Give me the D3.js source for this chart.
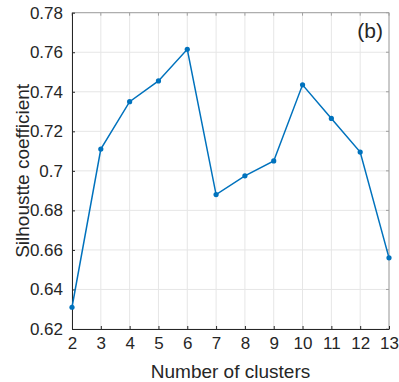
<!DOCTYPE html>
<html><head><meta charset="utf-8">
<script src="https://cdn.jsdelivr.net/npm/d3@7"></script>
<style>body{margin:0;background:#fff}svg{display:block}text{font-family:"Liberation Sans",Arial,sans-serif;fill:#262626}</style>
</head><body><svg id="c" width="399" height="382"></svg>
<script>
const clusters = [2,3,4,5,6,7,8,9,10,11,12,13];
const silhouette = [0.631,0.711,0.735,0.7455,0.7615,0.688,0.6975,0.705,0.7435,0.7265,0.7095,0.656];
const yTicks = [0.62,0.64,0.66,0.68,0.7,0.72,0.74,0.76,0.78];
const xTicks = clusters;

const svg = d3.select("#c");
const L=72, R=389, T=12.7, B=329;
const x = d3.scaleLinear().domain([2,13]).range([L,R]);
const y = d3.scaleLinear().domain([0.62,0.78]).range([B,T]);

// grid
const g = svg.append("g");
g.selectAll("line.gx").data(xTicks).join("line")
  .attr("x1",d=>x(d)).attr("x2",d=>x(d)).attr("y1",T).attr("y2",B)
  .attr("stroke","#e6e6e6").attr("stroke-width",1);
g.selectAll("line.gy").data(yTicks).join("line")
  .attr("y1",d=>y(d)).attr("y2",d=>y(d)).attr("x1",L).attr("x2",R)
  .attr("stroke","#e6e6e6").attr("stroke-width",1);

// box top/right
svg.append("line").attr("x1",L).attr("x2",R).attr("y1",T).attr("y2",T).attr("stroke","#a0a0a0");
svg.append("line").attr("x1",R).attr("x2",R).attr("y1",T).attr("y2",B).attr("stroke","#a0a0a0");
// inner ticks on top/right
svg.selectAll("line.tr").data(yTicks).join("line").attr("x1",R-3).attr("x2",R).attr("y1",d=>y(d)).attr("y2",d=>y(d)).attr("stroke","#a0a0a0");
svg.selectAll("line.tt").data(xTicks).join("line").attr("y1",T).attr("y2",T+3).attr("x1",d=>x(d)).attr("x2",d=>x(d)).attr("stroke","#a0a0a0");

// axes
const xAxis = d3.axisBottom(x).tickValues(xTicks).tickSizeInner(-3).tickSizeOuter(0).tickPadding(8).tickFormat(d3.format("d"));
const yAxis = d3.axisLeft(y).tickValues(yTicks).tickSizeInner(-3).tickSizeOuter(0).tickPadding(9).tickFormat(d=>String(+d.toFixed(2)));
const gx = svg.append("g").attr("transform",`translate(0,${B})`).call(xAxis);
const gy = svg.append("g").attr("transform",`translate(${L},0)`).call(yAxis);
[gx,gy].forEach(a=>{
  a.select(".domain").attr("stroke","#262626");
  a.selectAll(".tick line").attr("stroke","#262626");
  a.selectAll("text").style("font-size","17px").attr("fill","#262626").style("font-family","'Liberation Sans',Arial,sans-serif");
});

// line
const line = d3.line().x((d,i)=>x(clusters[i])).y(d=>y(d));
svg.append("path").datum(silhouette).attr("d",line).attr("fill","none").attr("stroke","#0072BD").attr("stroke-width",1.5);
svg.selectAll("circle.p").data(silhouette).join("circle")
  .attr("cx",(d,i)=>x(clusters[i])).attr("cy",d=>y(d)).attr("r",2.6).attr("fill","#0072BD");

// labels
svg.append("text").attr("x",(L+R)/2).attr("y",377.5).attr("text-anchor","middle").style("font-size","19px").text("Number of clusters");
svg.append("text").attr("transform",`translate(29,${(T+B)/2}) rotate(-90)`).attr("text-anchor","middle").style("font-size","19px").text("Silhoustte coefficient");
svg.append("text").attr("x",383).attr("y",38).attr("text-anchor","end").style("font-size","21px").text("(b)");
</script></body></html>
